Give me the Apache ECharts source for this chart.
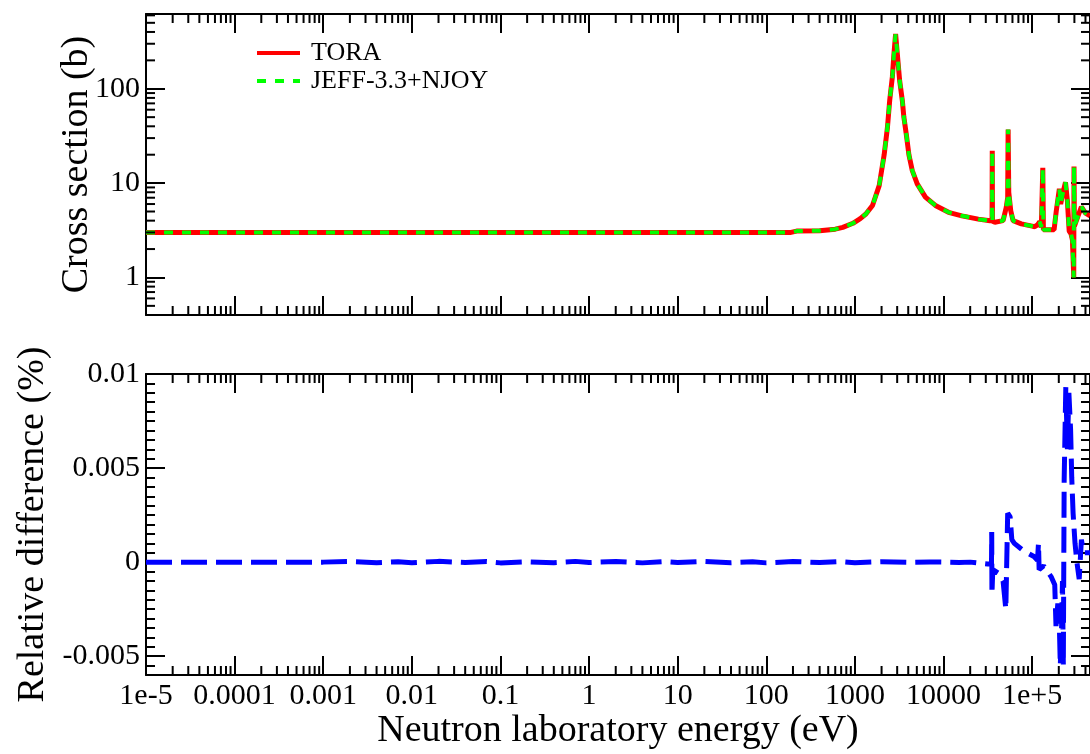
<!DOCTYPE html>
<html><head><meta charset="utf-8">
<script src="https://cdn.jsdelivr.net/npm/echarts@6/dist/echarts.min.js"></script>
<style>html,body{margin:0;padding:0;background:#fff}#c{width:1090px;height:754px}</style>
</head><body><div id="c"></div>
<script>
// ---- data (energies in eV) ----
const energyTop = [1e-5, 1e-4, 1e-3, 1e-2, 0.1, 1, 10, 100, 190, 220, 400, 600, 730, 950, 1150, 1330, 1580, 1880, 2140, 2330, 2470, 2650, 2760, 2880, 3010, 3200, 3430, 3570, 3800, 4070, 4440, 5050, 6250, 8100, 11400, 16100, 24700, 33400, 35300, 35500, 35700, 38000, 47000, 51000, 53000, 53600, 54500, 57400, 61000, 75600, 100000, 107000, 115000, 122000, 127000, 132000, 134000, 150000, 177000, 187000, 203000, 210000, 220000, 238000, 250000, 262000, 275000, 285000, 295000, 297000, 300000, 310000, 330000, 360000, 400000, 450000];
const sigmaTora = [3.0, 3.0, 3.0, 3.0, 3.0, 3.0, 3.0, 3.0, 3.0, 3.1, 3.13, 3.25, 3.4, 3.75, 4.2, 4.7, 5.8, 9.4, 20, 39, 75, 135, 235, 380, 235, 122, 75, 50, 33, 20, 13.6, 9.8, 7.1, 5.8, 4.9, 4.5, 4.15, 4.0, 4.0, 22, 3.95, 3.85, 4.0, 5.5, 7.0, 37, 8.0, 5.1, 4.0, 3.7, 3.5, 3.45, 3.6, 3.9, 3.4, 14.5, 3.2, 3.2, 3.2, 5.0, 8.7, 6.0, 7.5, 10.2, 6.5, 3.1, 2.9, 2.5, 1.0, 15, 3.5, 3.4, 4.5, 5.6, 4.8, 4.5];
const sigmaJeff = [3.0, 3.0, 3.0, 3.0, 3.0, 3.0, 3.0, 3.0, 3.0, 3.1, 3.13, 3.25, 3.4, 3.75, 4.2, 4.7, 5.8, 9.4, 20, 39, 75, 135, 235, 380, 235, 122, 75, 50, 33, 20, 13.6, 9.8, 7.1, 5.8, 4.9, 4.5, 4.15, 4.0, 4.0, 22, 3.95, 3.85, 4.0, 5.5, 7.0, 37, 8.0, 5.1, 4.0, 3.7, 3.5, 3.45, 3.6, 3.9, 3.4, 14.5, 3.2, 3.2, 3.2, 5.0, 8.7, 6.0, 7.5, 10.2, 6.5, 3.1, 2.9, 2.5, 1.0, 15, 3.5, 3.4, 4.5, 5.6, 4.8, 4.5];

const energyDiff = [1e-5, 3e-5, 1e-4, 3e-4, 1e-3, 2e-3, 4e-3, 7e-3, 0.01, 0.02, 0.04, 0.07, 0.1, 0.2, 0.4, 0.7, 1, 2, 4, 7, 10, 20, 40, 70, 100, 200, 400, 700, 1000, 2000, 4000, 7000, 10000, 15000, 20000, 25000,
  31500, 34800, 35000, 35200, 36000, 42000, 47000, 50500, 52000, 53000, 56500, 59000, 63000, 80000, 105000, 115000, 118000, 120000, 135000, 165000, 180000, 186000, 195000, 202000, 208000, 215000, 220000, 225000, 230000, 240000, 250000, 260000, 272000, 280000, 290000, 305000, 320000, 340000, 360000, 380000, 450000];
const relDiff = [0, 0, 0, 0, 0, 0.00003, -0.00003, 0.00002, -0.00003, 0.00004, -0.00002, 0.00003, -0.00004, 0.00002, -0.00003, 0.00004, -0.00002, 0.00003, -0.00004, 0.00003, -0.00002, 0.00004, -0.00003, 0.00002, -0.00004, 0.00003, -0.00002, 0.00003, -0.00003, 0.00002, -0.00001, 0.00001, 0, -0.00002, 0, -0.00005,
  -0.0001, -0.0001, 0.0016, -0.0017, -0.0004, -0.0006, -0.0010, -0.0025, -0.0024, 0.0026, 0.0024, 0.0012, 0.0010, 0.0006, 0.0003, 0.0001, 0.0010, -0.0004, -0.0002, -0.0008, -0.0012, -0.0034, -0.0022, -0.0030, -0.0055, -0.0035, -0.0010, -0.0055, 0.0044, 0.0093, 0.0060, 0.0090, 0.0070, 0.0045, 0.0026, 0.0010, 0.0, -0.0009, 0.0012, 0.0005, 0.0005];

const xTickLabels = ['1e-5', '0.0001', '0.001', '0.01', '0.1', '1', '10', '100', '1000', '10000', '1e+5'];
const yTopTickLabels = ['1', '10', '100'];
const yBottomTickValues = [-0.005, 0, 0.005, 0.01];
const yBottomTickLabels = ['-0.005', '0', '0.005', '0.01'];

const xRange = [1e-5, 4.5e5];
const yTopRange = [0.4, 620];
const yBottomRange = [-0.006, 0.01];

// ---- helpers ----
const L = Math.log10;
const FONT = "'Liberation Serif', 'Times New Roman', 'DejaVu Serif', serif";
const xMin = L(xRange[0]), xMax = L(xRange[1]);
const ytMin = L(yTopRange[0]), ytMax = L(yTopRange[1]);

// log minor tick positions (decorations of the log axes)
const xMinorTicks = [];
for (let n = -5; n <= 5; n++) for (let k = 2; k <= 9; k++) {
  const v = L(k) + n; if (v > xMin + 1e-9 && v < xMax - 1e-9) xMinorTicks.push(v);
}
const yTopMinorTicks = [];
for (let n = -1; n <= 2; n++) for (let k = 2; k <= 9; k++) {
  const v = L(k) + n; if (v > ytMin + 1e-6 && v < ytMax - 1e-6) yTopMinorTicks.push(v);
}

const MINOR_LEN = 9, MAJOR_LEN = 19;
const tickStyle = { stroke: '#000', lineWidth: 2 };

function xMinorSeries(xi, yi, yLo, yHi) {
  return {
    type: 'custom', xAxisIndex: xi, yAxisIndex: yi, silent: true, animation: false, clip: false, z: 10,
    data: xMinorTicks.map(v => [v, yLo]),
    renderItem(params, api) {
      const v = api.value(0);
      const b = api.coord([v, yLo]), t = api.coord([v, yHi]);
      return { type: 'group', children: [
        { type: 'line', shape: { x1: b[0], y1: b[1], x2: b[0], y2: b[1] - MINOR_LEN }, style: tickStyle },
        { type: 'line', shape: { x1: t[0], y1: t[1], x2: t[0], y2: t[1] + MINOR_LEN }, style: tickStyle }
      ]};
    }
  };
}
function yMinorSeries(xi, yi) {
  return {
    type: 'custom', xAxisIndex: xi, yAxisIndex: yi, silent: true, animation: false, clip: false, z: 10,
    data: yTopMinorTicks.map(v => [xMin, v]),
    renderItem(params, api) {
      const v = api.value(1);
      const l = api.coord([xMin, v]), r = api.coord([xMax, v]);
      return { type: 'group', children: [
        { type: 'line', shape: { x1: l[0], y1: l[1], x2: l[0] + MINOR_LEN, y2: l[1] }, style: tickStyle },
        { type: 'line', shape: { x1: r[0], y1: r[1], x2: r[0] - MINOR_LEN, y2: r[1] }, style: tickStyle }
      ]};
    }
  };
}

const axisLine = { show: true, onZero: false, lineStyle: { color: '#000', width: 2 } };
const axisTick = { show: true, inside: true, length: MAJOR_LEN, lineStyle: { color: '#000', width: 2 } };
const labelStyle = { fontFamily: FONT, fontSize: 30, color: '#000' };
const nameStyle = { fontFamily: FONT, fontSize: 38, color: '#000' };

function xAxisDef(grid, pos, showLabel, name) {
  return {
    type: 'value', gridIndex: grid, position: pos, min: xMin, max: xMax, interval: 1,
    axisLine, axisTick, splitLine: { show: false },
    axisLabel: Object.assign({ show: showLabel, margin: 6, showMaxLabel: false,
      formatter: v => { const r = Math.round(v); return Math.abs(v - r) < 1e-6 ? (xTickLabels[r + 5] || '') : ''; } }, labelStyle),
    name: name || '', nameLocation: 'middle', nameGap: 32, nameTextStyle: nameStyle
  };
}

const option = {
  animation: false,
  backgroundColor: '#fff',
  textStyle: { fontFamily: FONT },
  grid: [
    { left: 146, top: 14, width: 950, height: 301 },
    { left: 146, top: 374, width: 950, height: 301 }
  ],
  legend: {
    orient: 'vertical', left: 250, top: 34, itemWidth: 43, itemHeight: 14, itemGap: 0,
    data: ['TORA', 'JEFF-3.3+NJOY'],
    itemStyle: { opacity: 0 },
    lineStyle: { width: 4 },
    textStyle: { fontFamily: FONT, fontSize: 26, color: '#000', lineHeight: 28, padding: [0, 0, 0, 6] }
  },
  xAxis: [
    xAxisDef(0, 'bottom', false),
    xAxisDef(0, 'top', false),
    xAxisDef(1, 'bottom', true, 'Neutron laboratory energy (eV)'),
    xAxisDef(1, 'top', false)
  ],
  yAxis: [
    { type: 'value', gridIndex: 0, position: 'left', min: ytMin, max: ytMax, minInterval: 1, maxInterval: 1,
      axisLine, axisTick, splitLine: { show: false },
      axisLabel: Object.assign({ margin: 6, showMinLabel: false, showMaxLabel: false,
        formatter: v => { const r = Math.round(v); return Math.abs(v - r) < 1e-6 ? (yTopTickLabels[r] || '') : ''; } }, labelStyle),
      name: 'Cross section (b)', nameLocation: 'middle', nameGap: 50, nameRotate: 90, nameMoveOverlap: false, nameTextStyle: nameStyle },
    { type: 'value', gridIndex: 0, position: 'right', min: ytMin, max: ytMax, minInterval: 1, maxInterval: 1,
      axisLine, axisTick, splitLine: { show: false }, axisLabel: { show: false } },
    { type: 'value', gridIndex: 1, position: 'left', min: yBottomRange[0], max: yBottomRange[1], minInterval: 0.005, maxInterval: 0.005,
      axisLine, axisTick, splitLine: { show: false },
      minorTick: { show: true, splitNumber: 10, length: MINOR_LEN, lineStyle: { color: '#000', width: 2 } },
      axisLabel: Object.assign({ margin: 6, showMinLabel: false,
        formatter: v => { const i = yBottomTickValues.findIndex(t => Math.abs(t - v) < 1e-9); return i >= 0 ? yBottomTickLabels[i] : ''; } }, labelStyle),
      name: 'Relative difference (%)', nameLocation: 'middle', nameGap: 92, nameRotate: 90, nameTextStyle: nameStyle },
    { type: 'value', gridIndex: 1, position: 'right', min: yBottomRange[0], max: yBottomRange[1], minInterval: 0.005, maxInterval: 0.005,
      axisLine, axisTick, splitLine: { show: false },
      minorTick: { show: true, splitNumber: 10, length: MINOR_LEN, lineStyle: { color: '#000', width: 2 } },
      axisLabel: { show: false } }
  ],
  series: [
    { name: 'TORA', type: 'line', xAxisIndex: 0, yAxisIndex: 0, symbol: 'none', showSymbol: false, z: 2,
      data: energyTop.map((e, i) => [L(e), L(sigmaTora[i])]),
      lineStyle: { color: '#ff0000', width: 5 }, itemStyle: { color: '#ff0000' } },
    { name: 'JEFF-3.3+NJOY', type: 'line', xAxisIndex: 0, yAxisIndex: 0, symbol: 'none', showSymbol: false, z: 3,
      data: energyTop.map((e, i) => [L(e), L(sigmaJeff[i])]),
      lineStyle: { color: '#00ff00', width: 4, type: [9, 9] }, itemStyle: { color: '#00ff00' } },
    { name: 'Relative difference', type: 'line', xAxisIndex: 2, yAxisIndex: 2, symbol: 'none', showSymbol: false, z: 3,
      data: energyDiff.map((e, i) => [L(e), relDiff[i]]),
      lineStyle: { color: '#0000ff', width: 5, type: [26, 9] }, itemStyle: { color: '#0000ff' } },
    xMinorSeries(0, 0, ytMin, ytMax),
    yMinorSeries(0, 0),
    xMinorSeries(2, 2, yBottomRange[0], yBottomRange[1])
  ]
};

const chart = echarts.init(document.getElementById('c'), null, { renderer: 'canvas' });
chart.setOption(option);
</script>
</body></html>
